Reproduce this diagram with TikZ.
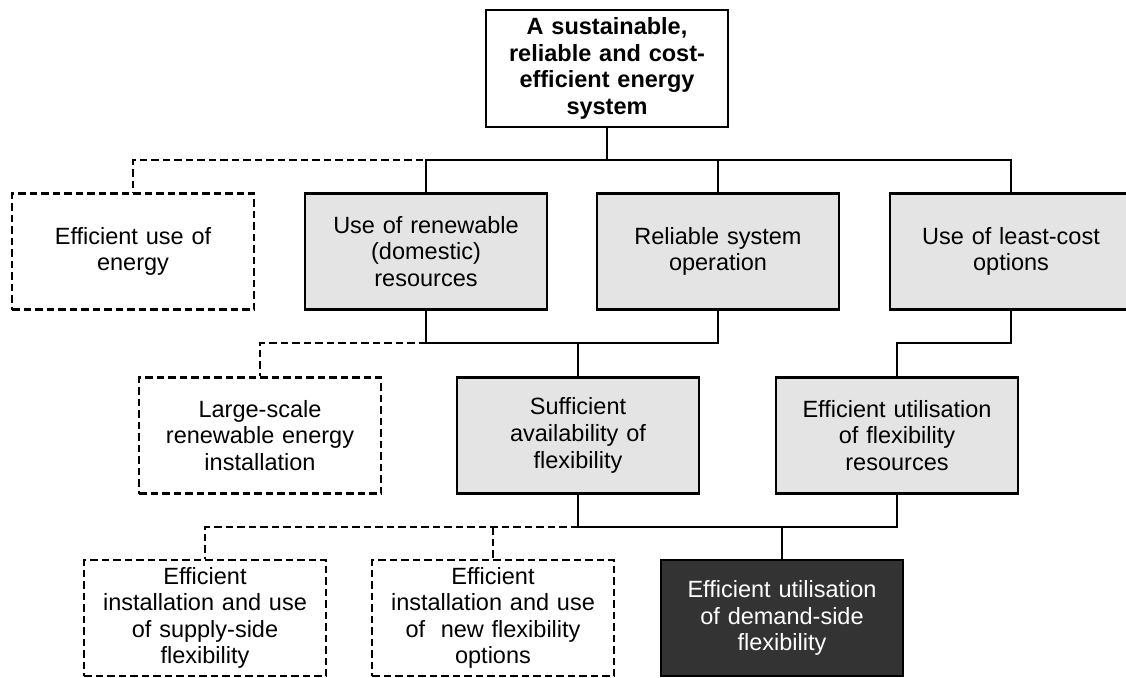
\documentclass[tikz,border=0pt]{standalone}
\usepackage{fontspec}
\setmainfont{Liberation Sans}
\definecolor{boxgray}{HTML}{E4E4E4}
\definecolor{boxdark}{HTML}{333333}
\tikzset{
  goal/.style={draw=black, line width=2.6pt, minimum width=242pt, minimum height=116pt,
    inner sep=0pt, align=center, text width=236pt,
    font=\fontsize{23.5}{26.6}\selectfont},
  mainbox/.style={goal, fill=boxgray},
  optbox/.style={goal, dash pattern=on 7.5pt off 4pt},
  focusbox/.style={goal, fill=boxdark, text=white},
  link/.style={line width=2.3pt, line join=miter},
  optlink/.style={line width=2.3pt, dash pattern=on 7.5pt off 4pt},
}
\begin{document}
\begin{tikzpicture}[x=1pt, y=-1pt]
\useasboundingbox (0,0) rectangle (1126,677);

% top goal
\node[goal, font=\bfseries\fontsize{23.5}{26.6}\selectfont, minimum height=117pt] (top) at (607,68.5)
  {A sustainable,\\reliable and cost-\\efficient energy\\system};

% second level
\node[optbox]  (eff) at (133,251.5)  {Efficient use of\\energy};
\node[mainbox] (ren) at (426,251.5)  {Use of renewable\\(domestic)\\resources};
\node[mainbox] (rel) at (718,251.5)  {Reliable system\\operation};
\node[mainbox] (lc)  at (1011,251.5) {Use of least-cost\\options};

% third level
\node[optbox]  (large) at (260,435.5) {Large-scale\\renewable energy\\installation};
\node[mainbox] (suff)  at (578,435.5) {Sufficient\\availability of\\flexibility};
\node[mainbox] (util)  at (897,435.5) {Efficient utilisation\\of flexibility\\resources};

% fourth level
\node[optbox]   (supply)  at (205,618) {Efficient\\installation and use\\of supply-side\\flexibility};
\node[optbox]   (newflex) at (493,618) {Efficient\\installation and use\\of~ new flexibility\\options};
\node[focusbox] (dsf)     at (782,618) {Efficient utilisation\\of demand-side\\flexibility};

% bus lines
\coordinate (b1) at (607,160);
\coordinate (b2) at (578,343);
\coordinate (b3) at (782,527);

% level 1 -> level 2
\draw[optlink] (b1) -- (eff.north |- b1) -- (eff.north);
\draw[link] (top.south) -- (b1);
\draw[link] (ren.north) -- (ren.north |- b1) -- (lc.north |- b1) -- (lc.north);
\draw[link] (rel.north) -- (rel.north |- b1);

% level 2 -> level 3
\draw[optlink] (ren.south |- b2) -- (large.north |- b2) -- (large.north);
\draw[link] (ren.south) -- (ren.south |- b2) -- (rel.south |- b2) -- (rel.south);
\draw[link] (suff.north) -- (b2);
\draw[link] (lc.south) -- (lc.south |- b2) -- (util.north |- b2) -- (util.north);

% level 3 -> level 4
\draw[optlink] (suff.south |- b3) -- (supply.north |- b3) -- (supply.north);
\draw[optlink] (newflex.north |- b3) -- (newflex.north);
\draw[link] (suff.south) -- (suff.south |- b3) -- (util.south |- b3) -- (util.south);
\draw[link] (b3) -- (dsf.north);
\end{tikzpicture}
\end{document}
